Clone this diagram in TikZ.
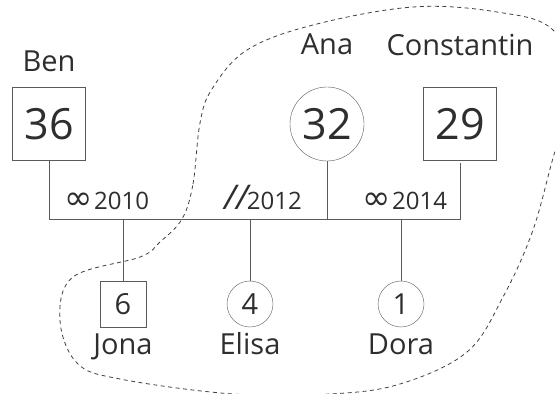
\documentclass[tikz,border=0pt]{standalone}
\usepackage{fontspec}
\setmainfont{Open Sans}
\newfontfamily\symfont{DejaVu Sans}
\usetikzlibrary{positioning}
\definecolor{ink}{HTML}{2E2E2E}
\definecolor{wire}{HTML}{5A5A5A}
\tikzset{
  male/.style={draw=wire,rectangle,inner sep=0pt,text=ink,minimum size=73pt,font=\fontsize{43}{43}\selectfont},
  female/.style={draw=wire,circle,inner sep=0pt,text=ink,minimum size=74pt,font=\fontsize{43}{43}\selectfont},
  boy/.style={male,minimum size=46pt,font=\fontsize{29}{29}\selectfont},
  girl/.style={female,minimum size=46pt,font=\fontsize{29}{29}\selectfont},
  who/.style={text=ink,inner sep=0pt,text height=22pt,text depth=7pt,font=\fontsize{29}{29}\selectfont},
  when/.style={text=ink,inner sep=0pt,anchor=base,font=\fontsize{24}{24}\selectfont},
  tie/.style={draw=wire,line width=1pt},
  blob/.style={dash pattern=on 4pt off 3.5pt,line width=0.8pt,black!75}
}
\newcommand{\wed}{{\symfont\fontsize{34}{34}\selectfont ∞}}
\begin{document}
\begin{tikzpicture}[x=1pt,y=1pt]
\useasboundingbox (0,0) rectangle (555,394);
\clip (0,0) rectangle (555,394);
% parents
\node[male] (ben) at (49,270) {36};
\node[female] (ana) at (327,270) {32};
\node[male] (constantin) at (460,270) {29};
\node[who,above=9pt of ben] (benname) {Ben};
\node[who,above=25pt of ana] (ananame) {Ana};
\node[who,above=25pt of constantin] (constname) {Constantin};
% children
\node[boy] (jona) at (123,90) {6};
\node[girl] (elisa) at (250,90) {4};
\node[girl] (dora) at (401,90) {1};
\node[who,below=5pt of jona] (jonaname) {Jona};
\node[who,below=5pt of elisa] (elisaname) {Elisa};
\node[who,below=5pt of dora] (doraname) {Dora};
% relations
\coordinate (bar) at (0,174);
\draw[tie] (ben.south) |- (constantin |- bar) -- ([yshift=-2pt]constantin.south);
\draw[tie] (ana.south) -- (ana |- bar);
\foreach \kid in {jona,elisa,dora}
  \draw[tie] (\kid.north) -- (\kid |- bar);
\node[when] (y2010) at (107,184) {\wed\kern1pt2010};
\node[when] (y2012) at (263,184) {{\fontsize{34}{34}\selectfont\itshape//}\kern-1pt2012};
\node[when] (y2014) at (405,184) {\wed\kern1pt2014};
% household
\draw[blob] plot[smooth cycle,tension=0.6] coordinates {
  (182,175) (193,210) (200,271) (212,305) (247,344) (313,369) (413,387)
  (497,382) (553,364) (578,305) (556,246) (533,164) (503,97) (467,42)
  (400,10) (330,0) (233,0) (120,15) (77,31) (60,74) (73,117) (140,137) (160,152)};
\end{tikzpicture}
\end{document}
